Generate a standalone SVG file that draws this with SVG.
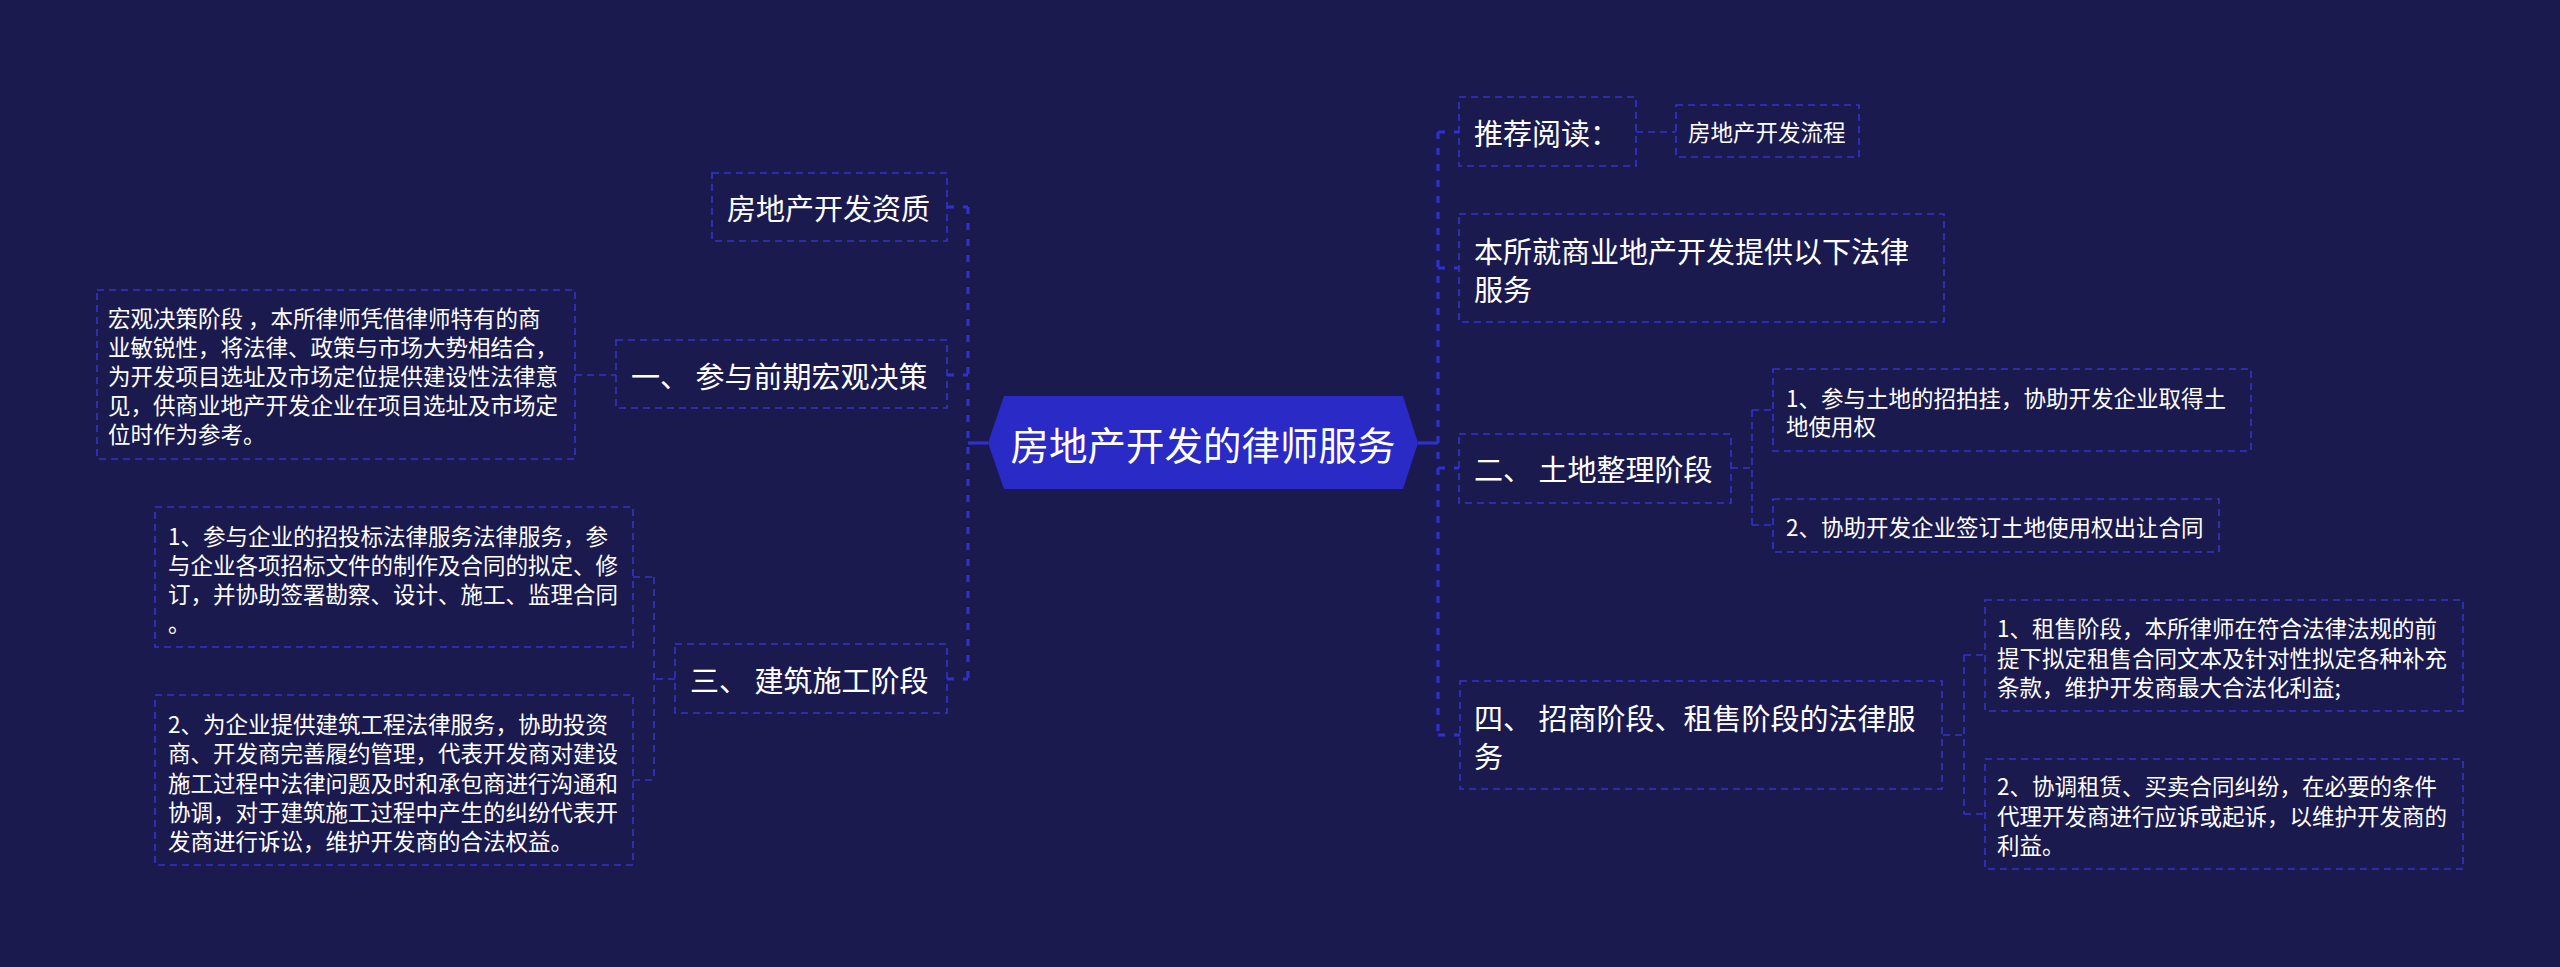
<svg xmlns="http://www.w3.org/2000/svg" width="2560" height="967" viewBox="0 0 2560 967">
<style>
.bg{fill:#1b1a4f}
.box{fill:none;stroke:#3434cc;stroke-width:1.6;stroke-dasharray:7 5}
.main{fill:none;stroke:#3030d0;stroke-width:3.2;stroke-dasharray:7 9}
.solid{fill:none;stroke:#3030d0;stroke-width:3.2}
.sub{fill:none;stroke:#3434cc;stroke-width:1.6;stroke-dasharray:7 5}
text{font-family:"Noto Sans CJK SC","Noto Sans",sans-serif;fill:#ffffff;dominant-baseline:central}
.t1{font-size:29px}
.t2{font-size:22.5px}
.t0{font-size:38.5px}
</style>
<rect class="bg" x="0" y="0" width="2560" height="967"/>
<g id="connectors">
  <path class="solid" d="M988 443 H968"/>
  <path class="main" d="M968 207 V680"/>
  <path class="main" d="M947 207 H968 M947 375 H968 M947 679 H968"/>
  <path class="solid" d="M1418 443 H1438"/>
  <path class="main" d="M1438 132 V735"/>
  <path class="main" d="M1438 132 H1459 M1438 268 H1459 M1438 468 H1459 M1438 735 H1460"/>
  <path class="sub" d="M575 375 H616"/>
  <path class="sub" d="M675 679 H654 M654 577 V780 M633 577 H654 M633 780 H654"/>
  <path class="sub" d="M1636 132 H1676"/>
  <path class="sub" d="M1731 468 H1752 M1752 410 V525 M1752 410 H1773 M1752 525 H1773"/>
  <path class="sub" d="M1943 735 H1964 M1964 655 V814 M1964 655 H1985 M1964 814 H1985"/>
</g>
<g id="root">
  <polygon points="988,443 1004,396 1403,396 1418,443 1403,489 1004,489" fill="#2a2ac6"/>
  <text class="t0" x="1203" y="443" text-anchor="middle">房地产开发的律师服务</text>
</g>
<g id="n-zizhi">
  <rect class="box" x="712" y="173" width="235" height="68"/>
  <text class="t1" x="727" y="207">房地产开发资质</text>
</g>
<g id="n-yi">
  <rect class="box" x="616" y="340" width="331" height="68"/>
  <text class="t1" x="631" y="375">一、 参与前期宏观决策</text>
</g>
<g id="n-yi-1">
  <rect class="box" x="97" y="290" width="478" height="169"/>
  <text class="t2" x="108"><tspan x="108" y="317">宏观决策阶段 ，本所律师凭借律师特有的商</tspan><tspan x="108" y="346">业敏锐性，将法律、政策与市场大势相结合，</tspan><tspan x="108" y="375">为开发项目选址及市场定位提供建设性法律意</tspan><tspan x="108" y="404">见，供商业地产开发企业在项目选址及市场定</tspan><tspan x="108" y="433">位时作为参考。</tspan></text>
</g>
<g id="n-san">
  <rect class="box" x="675" y="644" width="272" height="69"/>
  <text class="t1" x="690" y="679">三、 建筑施工阶段</text>
</g>
<g id="n-san-1">
  <rect class="box" x="155" y="507" width="478" height="140"/>
  <text class="t2"><tspan x="168" y="535">1、参与企业的招投标法律服务法律服务，参</tspan><tspan x="168" y="564">与企业各项招标文件的制作及合同的拟定、修</tspan><tspan x="168" y="593">订，并协助签署勘察、设计、施工、监理合同</tspan><tspan x="168" y="622">。</tspan></text>
</g>
<g id="n-san-2">
  <rect class="box" x="155" y="695" width="478" height="170"/>
  <text class="t2"><tspan x="168" y="723">2、为企业提供建筑工程法律服务，协助投资</tspan><tspan x="168" y="752">商、开发商完善履约管理，代表开发商对建设</tspan><tspan x="168" y="782">施工过程中法律问题及时和承包商进行沟通和</tspan><tspan x="168" y="811">协调，对于建筑施工过程中产生的纠纷代表开</tspan><tspan x="168" y="840">发商进行诉讼，维护开发商的合法权益。</tspan></text>
</g>
<g id="n-tuijian">
  <rect class="box" x="1459" y="97" width="177" height="69"/>
  <text class="t1" x="1474" y="132">推荐阅读：</text>
</g>
<g id="n-liucheng">
  <rect class="box" x="1676" y="105" width="183" height="52"/>
  <text class="t2" x="1688" y="131">房地产开发流程</text>
</g>
<g id="n-bensuo">
  <rect class="box" x="1459" y="214" width="485" height="108"/>
  <text class="t1"><tspan x="1474" y="250">本所就商业地产开发提供以下法律</tspan><tspan x="1474" y="288">服务</tspan></text>
</g>
<g id="n-er">
  <rect class="box" x="1459" y="434" width="272" height="69"/>
  <text class="t1" x="1474" y="468">二、 土地整理阶段</text>
</g>
<g id="n-er-1">
  <rect class="box" x="1773" y="369" width="478" height="82"/>
  <text class="t2"><tspan x="1786" y="397">1、参与土地的招拍挂，协助开发企业取得土</tspan><tspan x="1786" y="425">地使用权</tspan></text>
</g>
<g id="n-er-2">
  <rect class="box" x="1773" y="499" width="446" height="53"/>
  <text class="t2" x="1786" y="526">2、协助开发企业签订土地使用权出让合同</text>
</g>
<g id="n-si">
  <rect class="box" x="1460" y="681" width="482" height="108"/>
  <text class="t1"><tspan x="1474" y="717">四、 招商阶段、租售阶段的法律服</tspan><tspan x="1474" y="755">务</tspan></text>
</g>
<g id="n-si-1">
  <rect class="box" x="1985" y="600" width="478" height="111"/>
  <text class="t2"><tspan x="1997" y="627">1、租售阶段，本所律师在符合法律法规的前</tspan><tspan x="1997" y="657">提下拟定租售合同文本及针对性拟定各种补充</tspan><tspan x="1997" y="686">条款，维护开发商最大合法化利益;</tspan></text>
</g>
<g id="n-si-2">
  <rect class="box" x="1985" y="759" width="478" height="110"/>
  <text class="t2"><tspan x="1997" y="785">2、协调租赁、买卖合同纠纷，在必要的条件</tspan><tspan x="1997" y="815">代理开发商进行应诉或起诉，以维护开发商的</tspan><tspan x="1997" y="844">利益。</tspan></text>
</g>
</svg>
